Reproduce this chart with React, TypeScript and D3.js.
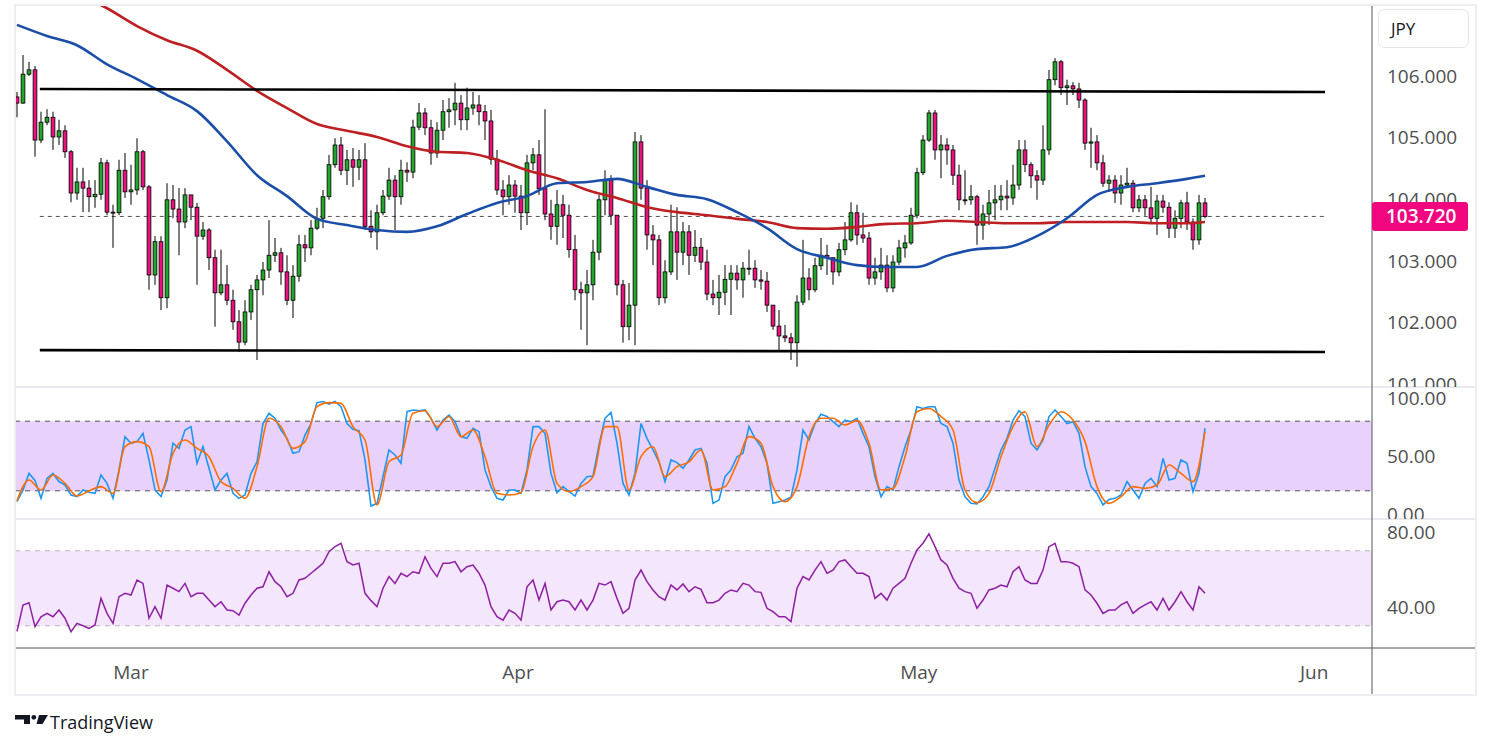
import * as React from 'react';
import * as d3 from 'd3';

// 8h-ish candles (open = previous close)
const firstOpen = 105.66;
const closes = [
  105.56, 106.03, 106.1, 104.96, 105.25, 105.33, 105.01, 105.11, 104.77, 104.1,
  104.28, 104.18, 104.04, 104.08, 104.59, 103.79, 103.78, 104.47, 104.12, 104.15,
  104.77, 104.2, 102.77, 103.31, 102.4, 103.99, 103.84, 103.63, 104.07, 103.87,
  103.4, 103.5, 103.05, 102.48, 102.61, 102.36, 102.01, 101.68, 102.17, 102.53,
  102.69, 102.85, 103.09, 103.13, 102.82, 102.36, 102.75, 103.26, 103.21, 103.53,
  103.69, 104.04, 104.56, 104.88, 104.47, 104.64, 104.52, 104.64, 103.56, 103.47,
  103.78, 104.05, 104.31, 104.04, 104.47, 104.44, 105.17, 105.4, 105.16, 104.75,
  105.12, 105.42, 105.45, 105.56, 105.29, 105.48, 105.53, 105.42, 105.27, 104.65,
  104.15, 104.04, 104.23, 104.05, 103.78, 104.59, 104.72, 104.17, 103.76, 103.56,
  103.91, 103.74, 103.18, 102.53, 102.48, 102.61, 103.14, 103.99, 104.31, 103.74,
  102.61, 101.93, 102.28, 104.93, 104.18, 103.42, 103.34, 102.4, 102.82, 103.47,
  103.14, 103.47, 103.09, 103.22, 102.98, 102.46, 102.4, 102.49, 102.7, 102.8,
  102.69, 102.88, 102.88, 102.69, 102.67, 102.28, 101.94, 101.78, 101.75, 101.67,
  102.33, 102.72, 102.53, 102.92, 103.09, 103.05, 102.82, 103.18, 103.34, 103.78,
  103.42, 103.37, 102.72, 102.82, 102.93, 102.56, 102.98, 103.21, 103.29, 103.74,
  104.43, 104.96, 105.4, 104.8, 104.88, 104.8, 104.39, 103.99, 103.99, 104.04,
  103.58, 103.76, 103.94, 103.99, 104.05, 104.02, 104.23, 104.8, 104.56, 104.38,
  104.31, 104.8, 105.94, 106.23, 105.81, 105.84, 105.79, 105.61, 104.91, 104.93,
  104.59, 104.26, 104.31, 104.1, 104.23, 104.26, 103.86, 103.99, 103.86, 103.69,
  103.97, 103.87, 103.53, 103.69, 103.94, 103.63, 103.34, 103.94, 103.72,
];
const highs = [
  105.74, 106.34, 106.23, 106.16, 105.42, 105.46, 105.42, 105.29, 105.2, 104.8,
  104.51, 104.51, 104.31, 104.31, 104.67, 104.64, 103.91, 104.64, 104.75, 104.56,
  104.99, 104.8, 104.23, 103.4, 103.4, 104.26, 104.23, 104.18, 104.18, 104.07,
  103.94, 103.63, 103.53, 103.18, 103.18, 102.93, 102.53, 102.2, 102.36, 102.61,
  102.77, 102.98, 103.66, 103.37, 103.21, 103.09, 102.93, 103.42, 103.42, 103.66,
  103.86, 104.15, 104.72, 104.99, 105.01, 104.8, 104.83, 104.8, 104.91, 103.82,
  103.91, 104.15, 104.51, 104.39, 104.64, 104.6, 105.29, 105.56, 105.48, 105.29,
  105.25, 105.61, 105.64, 105.89, 105.69, 105.81, 105.74, 105.69, 105.53, 105.45,
  104.8, 104.31, 104.39, 104.31, 104.23, 104.72, 104.83, 104.96, 105.46, 103.99,
  104.15, 104.07, 103.91, 103.42, 102.66, 102.85, 103.34, 104.07, 104.47, 104.39,
  103.74, 102.69, 102.64, 105.09, 105.04, 104.31, 103.58, 103.42, 103.01, 103.91,
  103.87, 103.63, 103.58, 103.5, 103.37, 103.18, 102.69, 102.77, 102.93, 102.93,
  102.93, 102.98, 103.18, 103.01, 102.85, 102.82, 102.28, 102.2, 101.96, 101.83,
  102.44, 103.34, 102.88, 103.05, 103.37, 103.26, 103.05, 103.29, 103.63, 103.95,
  103.91, 103.78, 103.47, 103.05, 103.21, 103.09, 103.09, 103.34, 103.42, 103.86,
  104.51, 105.04, 105.45, 105.45, 105.04, 104.99, 104.88, 104.56, 104.47, 104.23,
  104.07, 103.91, 104.15, 104.23, 104.23, 104.31, 104.56, 104.96, 104.96, 104.6,
  104.47, 105.2, 106.1, 106.29, 106.26, 105.94, 105.9, 105.89, 105.64, 105.16,
  105.04, 104.72, 104.39, 104.39, 104.39, 104.51, 104.31, 104.07, 104.07, 104.2,
  104.07, 104.07, 103.95, 103.82, 103.99, 104.12, 103.69, 104.07, 104.02,
];
const lows = [
  105.33, 105.55, 106.0, 104.69, 104.91, 105.2, 104.8, 104.88, 104.67, 103.95,
  103.99, 103.79, 103.79, 103.86, 103.99, 103.74, 103.21, 103.74, 104.02, 103.91,
  104.07, 104.15, 102.53, 102.61, 102.2, 102.23, 103.69, 103.09, 103.53, 103.66,
  102.61, 103.34, 102.85, 101.93, 102.44, 102.28, 101.88, 101.52, 101.63, 102.04,
  101.39, 102.44, 102.72, 102.98, 102.61, 102.28, 102.07, 102.66, 102.98, 103.09,
  103.5, 103.53, 103.99, 104.51, 104.39, 104.23, 104.2, 104.31, 103.5, 103.37,
  103.18, 103.74, 103.99, 103.5, 103.91, 104.28, 104.34, 105.12, 105.04, 104.56,
  104.67, 104.96, 105.16, 105.2, 105.12, 105.12, 105.37, 105.2, 104.96, 104.56,
  104.07, 103.74, 103.91, 103.78, 103.5, 103.58, 104.47, 104.07, 103.66, 103.34,
  103.26, 103.37, 103.05, 102.36, 101.88, 101.63, 102.36, 103.01, 103.74, 103.58,
  102.44, 101.67, 101.71, 101.63, 103.99, 103.18, 102.93, 102.28, 102.31, 102.77,
  102.69, 102.93, 102.77, 102.98, 102.85, 102.36, 102.28, 102.12, 102.28, 102.12,
  102.53, 102.4, 102.77, 102.56, 102.53, 102.17, 101.88, 101.55, 101.68, 101.39,
  101.28, 102.28, 102.36, 102.49, 102.85, 102.77, 102.61, 102.75, 103.09, 103.31,
  103.26, 103.29, 102.61, 102.61, 102.69, 102.49, 102.49, 102.93, 103.05, 103.26,
  103.69, 104.39, 104.93, 104.64, 104.34, 104.56, 104.23, 103.82, 103.91, 103.91,
  103.26, 103.34, 103.58, 103.66, 103.82, 103.82, 103.91, 104.15, 104.44, 104.18,
  103.99, 104.23, 104.72, 105.85, 105.69, 105.53, 105.69, 105.48, 104.8, 104.51,
  104.47, 104.2, 104.12, 103.94, 103.91, 104.18, 103.79, 103.79, 103.73, 103.63,
  103.42, 103.78, 103.37, 103.37, 103.53, 103.5, 103.18, 103.26, 103.69,
];

// moving averages, read every 5th bar
const blueMa = [
  106.83, 106.65, 106.5, 106.19, 105.95, 105.69, 105.43, 104.94, 104.39, 104.05,
  103.68, 103.58, 103.5, 103.47, 103.56, 103.76, 103.94, 104.05, 104.26, 104.28,
  104.33, 104.2, 104.07, 104.0, 103.79, 103.53, 103.19, 103.05, 102.93, 102.9,
  102.9, 103.08, 103.19, 103.22, 103.4, 103.69, 104.07, 104.2, 104.26, 104.33, 104.38,
];
const redMa = [
  107.33, 107.1, 106.81, 106.58, 106.41, 106.1, 105.76, 105.48, 105.22, 105.11,
  105.01, 104.86, 104.77, 104.75, 104.64, 104.47, 104.34, 104.15, 104.02, 103.87,
  103.79, 103.74, 103.68, 103.63, 103.53, 103.52, 103.55, 103.6, 103.61, 103.65,
  103.63, 103.61, 103.61, 103.63, 103.63, 103.63, 103.61, 103.61, 103.63,
];

const stochK = [
  10.6, 20.7, 35, 29, 13.5, 30.7, 35, 28, 25, 16.4,
  15, 20.7, 18.7, 17.8, 33.6, 26.4, 13.5, 38, 66.7, 61,
  62.4, 69.5, 46.6, 20.7, 15, 29.3, 61, 56.6, 72.4, 75.3,
  43.7, 58, 39.4, 20.7, 29.3, 35, 17.8, 13.5, 16.4, 35,
  45, 78, 86.8, 82.5, 72.4, 65.2, 52.3, 53.7, 68, 78,
  96, 97, 94.8, 97, 92.5, 78, 73, 71.8, 46.6, 6.9,
  9.2, 32.2, 55.2, 50.9, 43.7, 88.2, 89.7, 89, 89.7, 82.5,
  72.4, 81, 85.3, 79.6, 66.7, 65.2, 73.9, 71, 38, 23.6,
  13.5, 12.1, 20.7, 20.7, 17.8, 38, 75.3, 75.3, 69.5, 35,
  18.4, 23.6, 19.3, 15.5, 26.4, 32.2, 32.8, 59.5, 82.5, 87.6,
  61, 26.4, 16.4, 35, 78, 65.2, 55.2, 45, 28, 46.6,
  44.3, 39.4, 46.6, 55.2, 56.6, 43.7, 9.2, 12.1, 32.2, 38,
  49.4, 52.3, 75.3, 65.2, 58, 43.7, 9.2, 10.6, 12.1, 14.4,
  38, 72.4, 63.8, 78, 86, 84, 79.6, 75.3, 81, 79.6,
  82.5, 69.5, 58, 32.2, 14.9, 23.6, 20.7, 40.8, 58, 72.4,
  92.5, 91, 92.5, 92.5, 78, 75.3, 61, 29.3, 14.9, 9.2,
  8.6, 14.9, 23.6, 39.4, 55.2, 65.2, 81, 89, 84, 61,
  55.2, 63.8, 84, 89.7, 84, 78, 79.6, 69.5, 40.8, 23.6,
  17.8, 7.8, 12.6, 13.5, 16.4, 27.9, 20.7, 13.5, 26.4, 30.7,
  23.6, 48, 29.3, 30.7, 46.6, 43.7, 19.3, 35, 74,
];
// %D read on every second bar
const stochD = [
  11.5, 29.3, 20.7, 33.6, 26.4, 15.5, 19.8, 23.6, 17.8, 58,
  62.4, 58, 19.3, 52.3, 63.8, 56.6, 49.4, 28, 22.1, 13.5,
  40.8, 82.5, 75.3, 56.6, 62.4, 92.5, 96, 95.4, 75.3, 63.8,
  7.8, 45, 50.9, 86.8, 89, 75.3, 83.9, 66.7, 72.4, 49.4,
  17.8, 16.4, 18.4, 58, 72.4, 26.4, 19.3, 23.6, 32.2, 75.3,
  75.3, 20.7, 49.4, 58, 32.2, 40.8, 45, 55.2, 20.7, 23.6,
  43.7, 66.7, 61, 23.6, 10.6, 23.6, 66.7, 82.5, 82.5, 76.7,
  80.5, 61, 20.7, 22.1, 49.4, 88.2, 91, 84, 72.4, 20.7,
  9.8, 17.8, 49.4, 75.3, 88.2, 58, 76.7, 88.2, 81, 62.4,
  23.6, 9.2, 14.9, 23.6, 22.1, 25, 42.2, 35, 27.9, 71,
];
const rsi = [
  27, 41, 42.3, 29.5, 34.8, 36.6, 34.8, 38.4, 34, 26.8,
  31.3, 30, 28.6, 30.4, 44.6, 36.6, 31.3, 45.5, 47.3, 46.4,
  54.4, 52.6, 34, 40.2, 34, 51.7, 50, 48.2, 52.6, 45.5,
  47.3, 47.3, 43.7, 40.2, 42.8, 38.4, 38, 35.7, 42, 46.4,
  50, 50.8, 58.8, 53.5, 50.8, 45.5, 47.3, 54.4, 55.3, 58,
  60.6, 63.3, 69.5, 72.2, 74, 64.2, 62.4, 63.3, 47.3, 43.4,
  40.2, 50, 56.2, 52.6, 58, 56.2, 58.8, 58, 66.8, 60.6,
  56.2, 63.3, 63.3, 64.2, 58.8, 61.5, 62.4, 58, 51.7, 40.2,
  34.8, 33, 38.4, 36.6, 33, 50.8, 54.4, 43.7, 52.6, 38.4,
  42.8, 43.7, 42.8, 38.4, 43.7, 38.4, 43.7, 52.6, 51.7, 53.5,
  44.6, 36.6, 39.3, 54.4, 59.7, 53.5, 49.1, 45.5, 43.7, 51.7,
  49.1, 52.3, 48.2, 50.8, 49.4, 42.3, 42.3, 43.7, 47.3, 49.1,
  48.2, 52.6, 51.7, 48.2, 47.8, 39.3, 37.5, 34.8, 34.8, 32.2,
  50, 56.2, 54.4, 59.7, 64.2, 58, 59.7, 64.2, 65.1, 61.5,
  58, 58, 56.2, 44.6, 47.3, 43.7, 50, 52.6, 55.3, 63.3,
  70.4, 74, 79, 72.2, 65.1, 62.4, 55.3, 50, 48.2, 47.3,
  39.3, 43.7, 49.1, 50, 51.7, 50.8, 58.8, 61.5, 54.4, 52.6,
  52.6, 59.7, 72.2, 74, 64.2, 64.2, 63.3, 61.5, 49.1, 46.4,
  42, 36.6, 38.4, 38.4, 41.1, 42.8, 36.6, 39.3, 41.1, 42.8,
  38.4, 44.6, 38.4, 42.8, 48.2, 42.8, 38.4, 50.8, 47.3,
];

const priceTicks = [101, 102, 103, 104, 105, 106];
const stochTicks = [0, 50, 100];
const rsiTicks = [40, 80];
const monthLabels = ['Mar', 'Apr', 'May', 'Jun'];
const monthBars = [19, 83.5, 150.3, 216.2];
const channelTop = [{ bar: 3.8, price: 105.79 }, { bar: 218, price: 105.74 }];
const channelBottom = [{ bar: 3.8, price: 101.55 }, { bar: 218, price: 101.52 }];
const lastPrice = 103.72;

const W = 1491;
const H = 749;
const L = 15;
const R = 1476;
const AX = 1372;
const T = 5;
const P_BOT = 387;
const S_BOT = 519;
const R_BOT = 648;
const B = 695;
const FONT = '"Open Sans", "Noto Sans", sans-serif';
const UP = '#22a62a';
const DOWN = '#ec0f7c';

export default function App() {
  const x = d3.scaleLinear().domain([0, closes.length - 1]).range([17, 1205]);
  const yP = d3.scaleLinear().domain([101, 106]).range([384, 76]);
  const yS = d3.scaleLinear().domain([0, 100]).range([514, 398]);
  const yR = d3.scaleLinear().domain([40, 80]).range([607, 532]);

  const candles = closes.map((c, i) => {
    const o = i === 0 ? firstOpen : closes[i - 1];
    return { i, o, c, h: Math.max(highs[i], o, c), l: Math.min(lows[i], o, c) };
  });

  const blueBars = d3.range(0, 196, 5).concat([198]);
  const redBars = d3.range(10, 196, 5).concat([198]);
  const maLine = d3.line<[number, number]>().x(d => x(d[0])).y(d => yP(d[1])).curve(d3.curveMonotoneX);
  const bluePath = maLine(blueMa.map((v, k) => [blueBars[k], v]) as [number, number][]) || '';
  const redPath = maLine(redMa.map((v, k) => [redBars[k], v]) as [number, number][]) || '';

  const kPath = d3.line<number>().x((_, i) => x(i)).y(d => yS(d))(stochK) || '';
  const dPath = d3.line<number>().x((_, i) => x(i * 2)).y(d => yS(d)).curve(d3.curveMonotoneX)(stochD) || '';
  const rsiPath = d3.line<number>().x((_, i) => x(i)).y(d => yR(d))(rsi) || '';

  const bw = 3.8;
  const axisText = { fontFamily: FONT, fontSize: 19, fill: '#4f4f4f' } as const;

  return (
    <svg width={W} height={H} style={{ position: 'absolute', left: 0, top: 0, background: '#fff' }}>
      <defs>
        <clipPath id="cp-price"><rect x={L} y={T} width={AX - L} height={P_BOT - T} /></clipPath>
        <clipPath id="cp-stoch"><rect x={L} y={P_BOT} width={AX - L} height={S_BOT - P_BOT} /></clipPath>
        <clipPath id="cp-rsi"><rect x={L} y={S_BOT} width={AX - L} height={R_BOT - S_BOT} /></clipPath>
        <clipPath id="ax-price"><rect x={AX} y={T} width={R - AX} height={P_BOT - T} /></clipPath>
        <clipPath id="ax-stoch"><rect x={AX} y={P_BOT} width={R - AX} height={S_BOT - P_BOT} /></clipPath>
        <clipPath id="ax-rsi"><rect x={AX} y={S_BOT} width={R - AX} height={R_BOT - S_BOT} /></clipPath>
      </defs>

      {/* price pane */}
      <g clipPath="url(#cp-price)">
        <line x1={x(3.8)} x2={x(218)} y1={yP(lastPrice)} y2={yP(lastPrice)} stroke="#555" strokeDasharray="4,4" strokeWidth={1} />
        {candles.map(d => (
          <g key={d.i}>
            <line x1={x(d.i)} x2={x(d.i)} y1={yP(d.h)} y2={yP(d.l)} stroke="#000" strokeWidth={1} />
            <rect
              x={x(d.i) - bw / 2}
              y={yP(Math.max(d.o, d.c))}
              width={bw}
              height={Math.max(1, Math.abs(yP(d.o) - yP(d.c)))}
              fill={d.c >= d.o ? UP : DOWN}
              stroke="#000"
              strokeWidth={0.8}
            />
          </g>
        ))}
        <path d={redPath} fill="none" stroke="#bd1f23" strokeWidth={2.6} />
        <path d={bluePath} fill="none" stroke="#1a4ea8" strokeWidth={2.6} />
        {[channelTop, channelBottom].map((seg, k) => (
          <line key={k} x1={x(seg[0].bar)} y1={yP(seg[0].price)} x2={x(seg[1].bar)} y2={yP(seg[1].price)} stroke="#000" strokeWidth={2.6} />
        ))}
      </g>

      {/* stochastic pane */}
      <g clipPath="url(#cp-stoch)">
        <rect x={L} y={yS(80)} width={AX - L} height={yS(20) - yS(80)} fill="#e8d2fc" />
        {[80, 20].map(v => (
          <line key={v} x1={L} x2={AX} y1={yS(v)} y2={yS(v)} stroke="#555" strokeDasharray="5,5" strokeWidth={1} />
        ))}
        <path d={kPath} fill="none" stroke="#1e96f3" strokeWidth={1.6} />
        <path d={dPath} fill="none" stroke="#ff6d00" strokeWidth={1.6} />
      </g>

      {/* RSI pane */}
      <g clipPath="url(#cp-rsi)">
        <rect x={L} y={yR(70)} width={AX - L} height={yR(30) - yR(70)} fill="#f3e6fd" />
        {[70, 30].map(v => (
          <line key={v} x1={L} x2={AX} y1={yR(v)} y2={yR(v)} stroke="#b8b8b8" strokeDasharray="5,5" strokeWidth={1} />
        ))}
        <path d={rsiPath} fill="none" stroke="#8e1fa3" strokeWidth={1.5} />
      </g>

      {/* separators */}
      <line x1={L} x2={R} y1={P_BOT} y2={P_BOT} stroke="#e0e3eb" strokeWidth={1.5} />
      <line x1={L} x2={R} y1={S_BOT} y2={S_BOT} stroke="#e0e3eb" strokeWidth={1.5} />
      <line x1={L} x2={R} y1={R_BOT} y2={R_BOT} stroke="#555" strokeWidth={1} />
      <line x1={AX} x2={AX} y1={T} y2={B} stroke="#555" strokeWidth={1} />
      <rect x={L} y={T} width={R - L} height={B - T} fill="none" stroke="#eceef2" strokeWidth={2} />

      {/* axis labels */}
      <g clipPath="url(#ax-price)">
        {priceTicks.map(v => (
          <text key={v} x={1387} y={yP(v)} dy="0.36em" {...axisText}>{v.toFixed(3)}</text>
        ))}
      </g>
      <g clipPath="url(#ax-stoch)">
        {stochTicks.map(v => (
          <text key={v} x={1387} y={yS(v)} dy="0.36em" {...axisText}>{v.toFixed(2)}</text>
        ))}
      </g>
      <g clipPath="url(#ax-rsi)">
        {rsiTicks.map(v => (
          <text key={v} x={1387} y={yR(v)} dy="0.36em" {...axisText}>{v.toFixed(2)}</text>
        ))}
      </g>
      <rect x={AX} y={yP(lastPrice) - 14.5} width={96} height={29} rx={3} fill="#f0077f" />
      <text x={1386} y={yP(lastPrice)} dy="0.36em" fontFamily={FONT} fontSize={19} fontWeight={600} fill="#fff">
        {lastPrice.toFixed(3)}
      </text>

      <rect x={1378.5} y={9.5} width={90} height={38} rx={6} fill="#fff" stroke="#e3e5ea" />
      <text x={1391} y={29} dy="0.36em" fontFamily={FONT} fontSize={17} fill="#131722">JPY</text>

      {monthLabels.map((m, k) => (
        <text key={m} x={x(monthBars[k])} y={672} dy="0.36em" textAnchor="middle" {...axisText} fontWeight={500}>{m}</text>
      ))}

      {/* footer logo */}
      <g fill="#131722">
        <polygon points="15,715 30,715 30,724 24,724 24,719.5 15,719.5" />
        <circle cx={33.8} cy={717.3} r={2.4} />
        <polygon points="39,715 48,715 42.5,724 36.5,724" />
      </g>
      <text x={50} y={729} fontFamily={FONT} fontSize={18} fontWeight={500} fill="#131722">TradingView</text>
    </svg>
  );
}
